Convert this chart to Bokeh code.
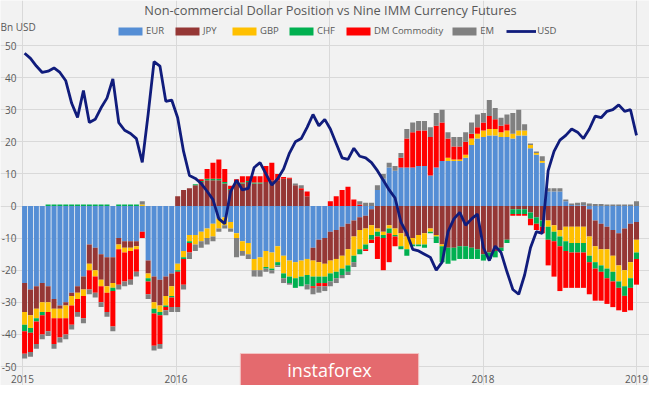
import numpy as np
import pandas as pd
from bokeh.plotting import figure
from bokeh.models import ColumnDataSource, Legend, LegendItem, Label, FixedTicker
from bokeh.core.properties import value
from bokeh.embed import file_html
from bokeh.resources import INLINE

# bi-weekly CFTC reports, Jan 2015 .. Jan 2019 (values in bn USD)
dates = pd.date_range("2015-01-06", periods=105, freq="14D")

eur = [-24, -26, -25, -24, -25, -29, -31, -30, -27, -25, -22, -12, -13, -15, -16, -16, -10, -11, -11, -11, -8, -17, -22, -23, -22, -21,
       -18, -14, -9, -9, -8, -7, -5.5, -4, -3.5, -5, -8.5, -11, -11.5, -16.5, -16, -14, -14.5, -12.5, -15.5, -17, -17.5, -17, -16.5, -13, -10.5, -10,
       -8, -7.5, -6.5, -5.5, -4.5, -3.5, -3, -1, 5, 8.5, 12, 11, 12, 12, 12, 12.5, 12.5, 9.5, 12, 14, 14, 14, 14, 15, 19, 21,
       21.5, 22, 22, 21.5, 21.5, 21, 22, 22, 18, 16, 13.5, 4.5, 4.5, 4.5, 1.5, 0.3, 0.2, 0.2, -1, -4.5, -5.5, -6.5, -7.5, -8.5, -7, -5.5, -5]
jpy = [-9, -8, -7, -6, -5, -3, -1, -1, -1, -2, -4, -6, -7, -8, -9, -8, -2, -2, -2, -1.5, 0, -4, -8, -8, -6, -4,
       3, 5, 5.5, 6.5, 7.5, 8, 8, 8, 7, 5, 7, 7, 7.5, 7, 7, 7.5, 8, 8, 8.5, 8.5, 6.5, 5, 3, -4, -7, -8,
       -9, -9, -9, -8, -5, -4, -4, -5, -7, -8, -6, -7, -8.5, -9.5, -10, -9, -8.5, -7, -9, -12, -13, -13, -12.5, -12.5, -13, -13.5,
       -15, -14.5, -14, -13, -10.5, -1, -1, -1, -2, -3.5, -4.5, -4.5, -6, -7.5, -6.5, -6.5, -6.5, -6.5, -8.5, -8, -8, -7, -8, -10, -13, -12, -5.5]
gbp = [-4, -4, -3, -3, -3, -3, -3, -4, -3, -2, -2, -2, -2, -2, -2, -1.5, -1.5, -1.5, -1, -1, 0.5, -1.5, -2, -2, -3, -3,
       -2, -2, -2, -3, -3, -3, -4, -3, -2.5, -2, -1.5, -3, -3.5, -3.5, -4, -5, -5, -5, -5.5, -5, -5, -5, -5, -5, -4.5, -4,
       -4, -4, -4, -5, -6, -6, -5, -3, -1, -1, -1, -2, -4, -4, -2, -3, -3.5, -1, -0.5, -0.5, 1, 0.5, 0.5, 1, 2, 1.5,
       2, 2, 2, 1.5, 2, 1.5, 1.5, 1.5, 1, 0.5, 0.5, -2, -2, -2, -4.5, -5, -5, -5, -6, -5, -5, -6, -5, -5, -5, -5, -4]
chf = [-2, -1.5, -1, -1, 0.5, 0.5, 0.5, 0.5, 0.5, 0.5, 0.5, 0.5, 0.5, 0.5, 0.5, -1, 0.5, 0.5, 0.5, 0.5, 0, -1, -1.5, -1, -0.5, -0.5,
       -0.5, -0.5, -0.5, 0.3, 0.3, 0.5, 0.5, 0.5, 0.5, 0.3, 0.3, 0.3, 0.3, 0.3, 0.3, -0.5, -0.5, -1, -1.5, -2, -3, -3, -3, -3, -2, -2,
       -2.5, -2, -2, -2, -2, -1.5, -1.5, -1.5, -1.5, -1, -1.5, -0.5, -1, -2, -0.5, -0.5, -1, -0.5, -2, -5, -5, -4, -4, -4, -3.5, -3,
       -2, -2, -2, -1, -1, -1.5, -1.5, -1.5, -2, -2, -2, -4, -3, -3, -3, -3, -3, -3, -2, -2, -2, -3, -3, -2, -3, -3, -2]
dm_commodity = [-7, -6, -7, -6, -6, -8, -6, -5, -6, -4, -7, -6, -5, -5, -6, -11, -11, -9, -9, -7, -2, -4, -10, -9, -1, -3,
                -11, -8, -3, 0, 0.5, 3, 5, 6, 4, 1, 1, 2, 1.5, 2, 2, 5, 5.5, 2, 0.5, 0.3, 0, 0.5, 1.5, -0.5, -1, -1,
                1.5, 3, 5, 6, 2, 0.5, -0.5, -1, -7, -10, -9, -3, 3, 9, 11, 11, 11, 12, 13, 12, 6, 4, 4, 4, 1.5, 2,
                2.5, 4, 3, 2, 2, -0.5, -0.5, -0.5, -2, -2, -2, -8, -11, -14, -11.5, -11, -11, -11, -10, -10, -9, -8, -8, -7, -5, -7, -8]
em = [-1.5, -1.5, -1.5, -1.5, -1.5, -1.5, -1.5, -1.5, -1.5, -1.5, -1.5, -1.5, -1.5, -1.5, -1.5, -1.5, -1.5, -1.5, -1.5, -1.5, 1, -1.5, -1.5, -1.5, -1.5, -1.5,
      -1.5, -1.5, -2, -2, -2, -2, -1.5, -1, -1, -1, -6, -1.5, -1.5, -2, -2, -1, -1, -0.5, -1.5, -0.5, 0.5, 1, -1.5, -2, -2, -1.5,
      -1.5, -1.5, -1, -1, -1.5, 1, 1, 1, 1.5, 1.5, 1.5, 1.5, 1.5, 3, 3, 3, 3, 3, 4, 4, 2, 3, 3, 3, 3.5, 4,
      3, 5, 3.5, 2.5, 3, 6.5, 6.5, 2, 0.5, 0.5, 1.5, 1, 1, 1, 0.5, 0.5, 0.8, 1, 0.8, 0.6, 0.6, 0.5, 0.5, 0.5, 0.5, 0.5, 1.5]
usd = [47.6, 46, 43.6, 41.6, 42, 43, 41.6, 39, 32, 27.6, 36, 26, 27, 30.6, 33.6, 39.6, 26, 23.6, 22.6, 21, 13.6, 28.6, 45, 43.6, 32.6, 33,
       27.5, 17, 9.5, 8.6, 7, 4.6, 2, -4, -5.5, 4.5, 8, 5, 5.5, 12, 13.5, 10, 6.5, 8.5, 11.5, 16.5, 20, 21, 24.5, 28.5, 25, 27,
       24, 19.5, 15, 14.5, 18, 15.5, 15, 13.5, 11, 8, 5, 2.5, -5, -8.5, -13.5, -14, -15, -16, -20, -17.5, -8, -4, -2, -6, -4, -2.5,
       -13, -17, -12.5, -14.5, -20.5, -26, -27.5, -21.5, -13, -8, -8.5, 11, 17, 20.5, 22, 24, 23, 21, 24, 28, 27.5, 29.5, 30, 31.5, 29.5, 30, 22]

names = ["EUR", "JPY", "GBP", "CHF", "DM Commodity", "EM"]
colors = ["#558ed5", "#953735", "#ffc000", "#00b050", "#ff0000", "#808080"]
years = [2015, 2016, 2017, 2018, 2019]
y_ticks = list(range(-50, 51, 10))

TITLE = "Non-commercial Dollar Position vs Nine IMM Currency Futures"
GREY_TXT = "#595959"
FONT = "Open Sans"
W, H = 649, 385

# the plot frame covers the whole canvas so that heading, legend and the
# watermark can be placed freely; tick labels are drawn with text glyphs
px_year = 153.5                  # pixels per year
x0_px = 22                       # pixel column of 2015
px_unit = 3.21                   # pixels per bn USD
top50_px = 45                    # pixel row of +50
x_start = 2015 - x0_px / px_year
x_end = 2015 + (W - x0_px) / px_year
y_end = 50 + top50_px / px_unit
y_start = 50 - (H - top50_px) / px_unit

# decimal year positions
x = (dates.year + (dates.dayofyear - 1) / 365.25).to_numpy()
bar_w = 12 / 365.25

p = figure(width=W, height=H, x_range=(x_start, x_end), y_range=(y_start, y_end),
           output_backend="svg", toolbar_location=None, min_border=0,
           background_fill_color="#f2f2f2", border_fill_color="#f2f2f2", outline_line_color=None)
p.xaxis.visible = False
p.yaxis.visible = False
p.xgrid.ticker = FixedTicker(ticks=years)
p.ygrid.ticker = FixedTicker(ticks=y_ticks)
p.xgrid.bounds = (-50, 50)
p.ygrid.bounds = (2015, 2019 + 4 / px_year)
p.xgrid.grid_line_color = "#d9d9d9"
p.ygrid.grid_line_color = "#d9d9d9"

# stacked bars: positives stack up from 0, negatives stack down from 0
pos_base = np.zeros(len(x))
neg_base = np.zeros(len(x))
items = []
for name, vals, color in zip(names, [eur, jpy, gbp, chf, dm_commodity, em], colors):
    v = np.asarray(vals, dtype=float)
    pos = np.clip(v, 0, None)
    neg = np.clip(v, None, 0)
    bottom = np.where(v >= 0, pos_base, neg_base + neg)
    top = np.where(v >= 0, pos_base + pos, neg_base)
    pos_base = pos_base + pos
    neg_base = neg_base + neg
    src = ColumnDataSource(data=dict(x=x, bottom=bottom, top=top))
    r = p.vbar(x="x", width=bar_w, bottom="bottom", top="top", source=src,
               fill_color=color, line_color=None)
    items.append(LegendItem(label=name, renderers=[r]))

r_usd = p.line(x, usd, line_color="#101c7c", line_width=2.8)
items.append(LegendItem(label="USD", renderers=[r_usd]))

# tick labels
p.text(x=[2015 - 6 / px_year] * len(y_ticks), y=y_ticks, text=[str(t) for t in y_ticks],
       text_align="right", text_baseline="middle", text_font=value(FONT),
       text_font_size="10px", text_color=GREY_TXT)
p.text(x=years, y=[-50 - 12 / px_unit] * len(years), text=[str(t) for t in years],
       text_align="center", text_baseline="middle", text_font=value(FONT),
       text_font_size="10px", text_color=GREY_TXT)

legend = Legend(items=items, orientation="horizontal", location=(115, H - 37),
                glyph_width=30, glyph_height=10, label_standoff=1, spacing=6,
                padding=0, margin=0, label_height=12,
                label_text_font=FONT, label_text_font_size="9.5px", label_text_color=GREY_TXT,
                background_fill_alpha=0, border_line_alpha=0)
p.add_layout(legend)

p.add_layout(Label(x=330, y=H - 9, x_units="screen", y_units="screen", text=TITLE,
                   text_align="center", text_baseline="middle", text_font=FONT,
                   text_font_size="12.8px", text_color=GREY_TXT))
p.add_layout(Label(x=0, y=H - 26, x_units="screen", y_units="screen", text="Bn USD",
                   text_align="left", text_baseline="middle", text_font=FONT,
                   text_font_size="10px", text_color=GREY_TXT))

# watermark box
p.add_layout(Label(x=329, y=11, x_units="screen", y_units="screen", text="instaforex",
                   text_align="center", text_baseline="middle", text_font=FONT,
                   text_font_size="18px", text_color="white",
                   background_fill_color="#e46a6e", border_line_color="#f3c4c4",
                   padding=dict(left=47, right=47, top=4, bottom=14)))

open("out.html", "w").write(file_html(p, INLINE))
